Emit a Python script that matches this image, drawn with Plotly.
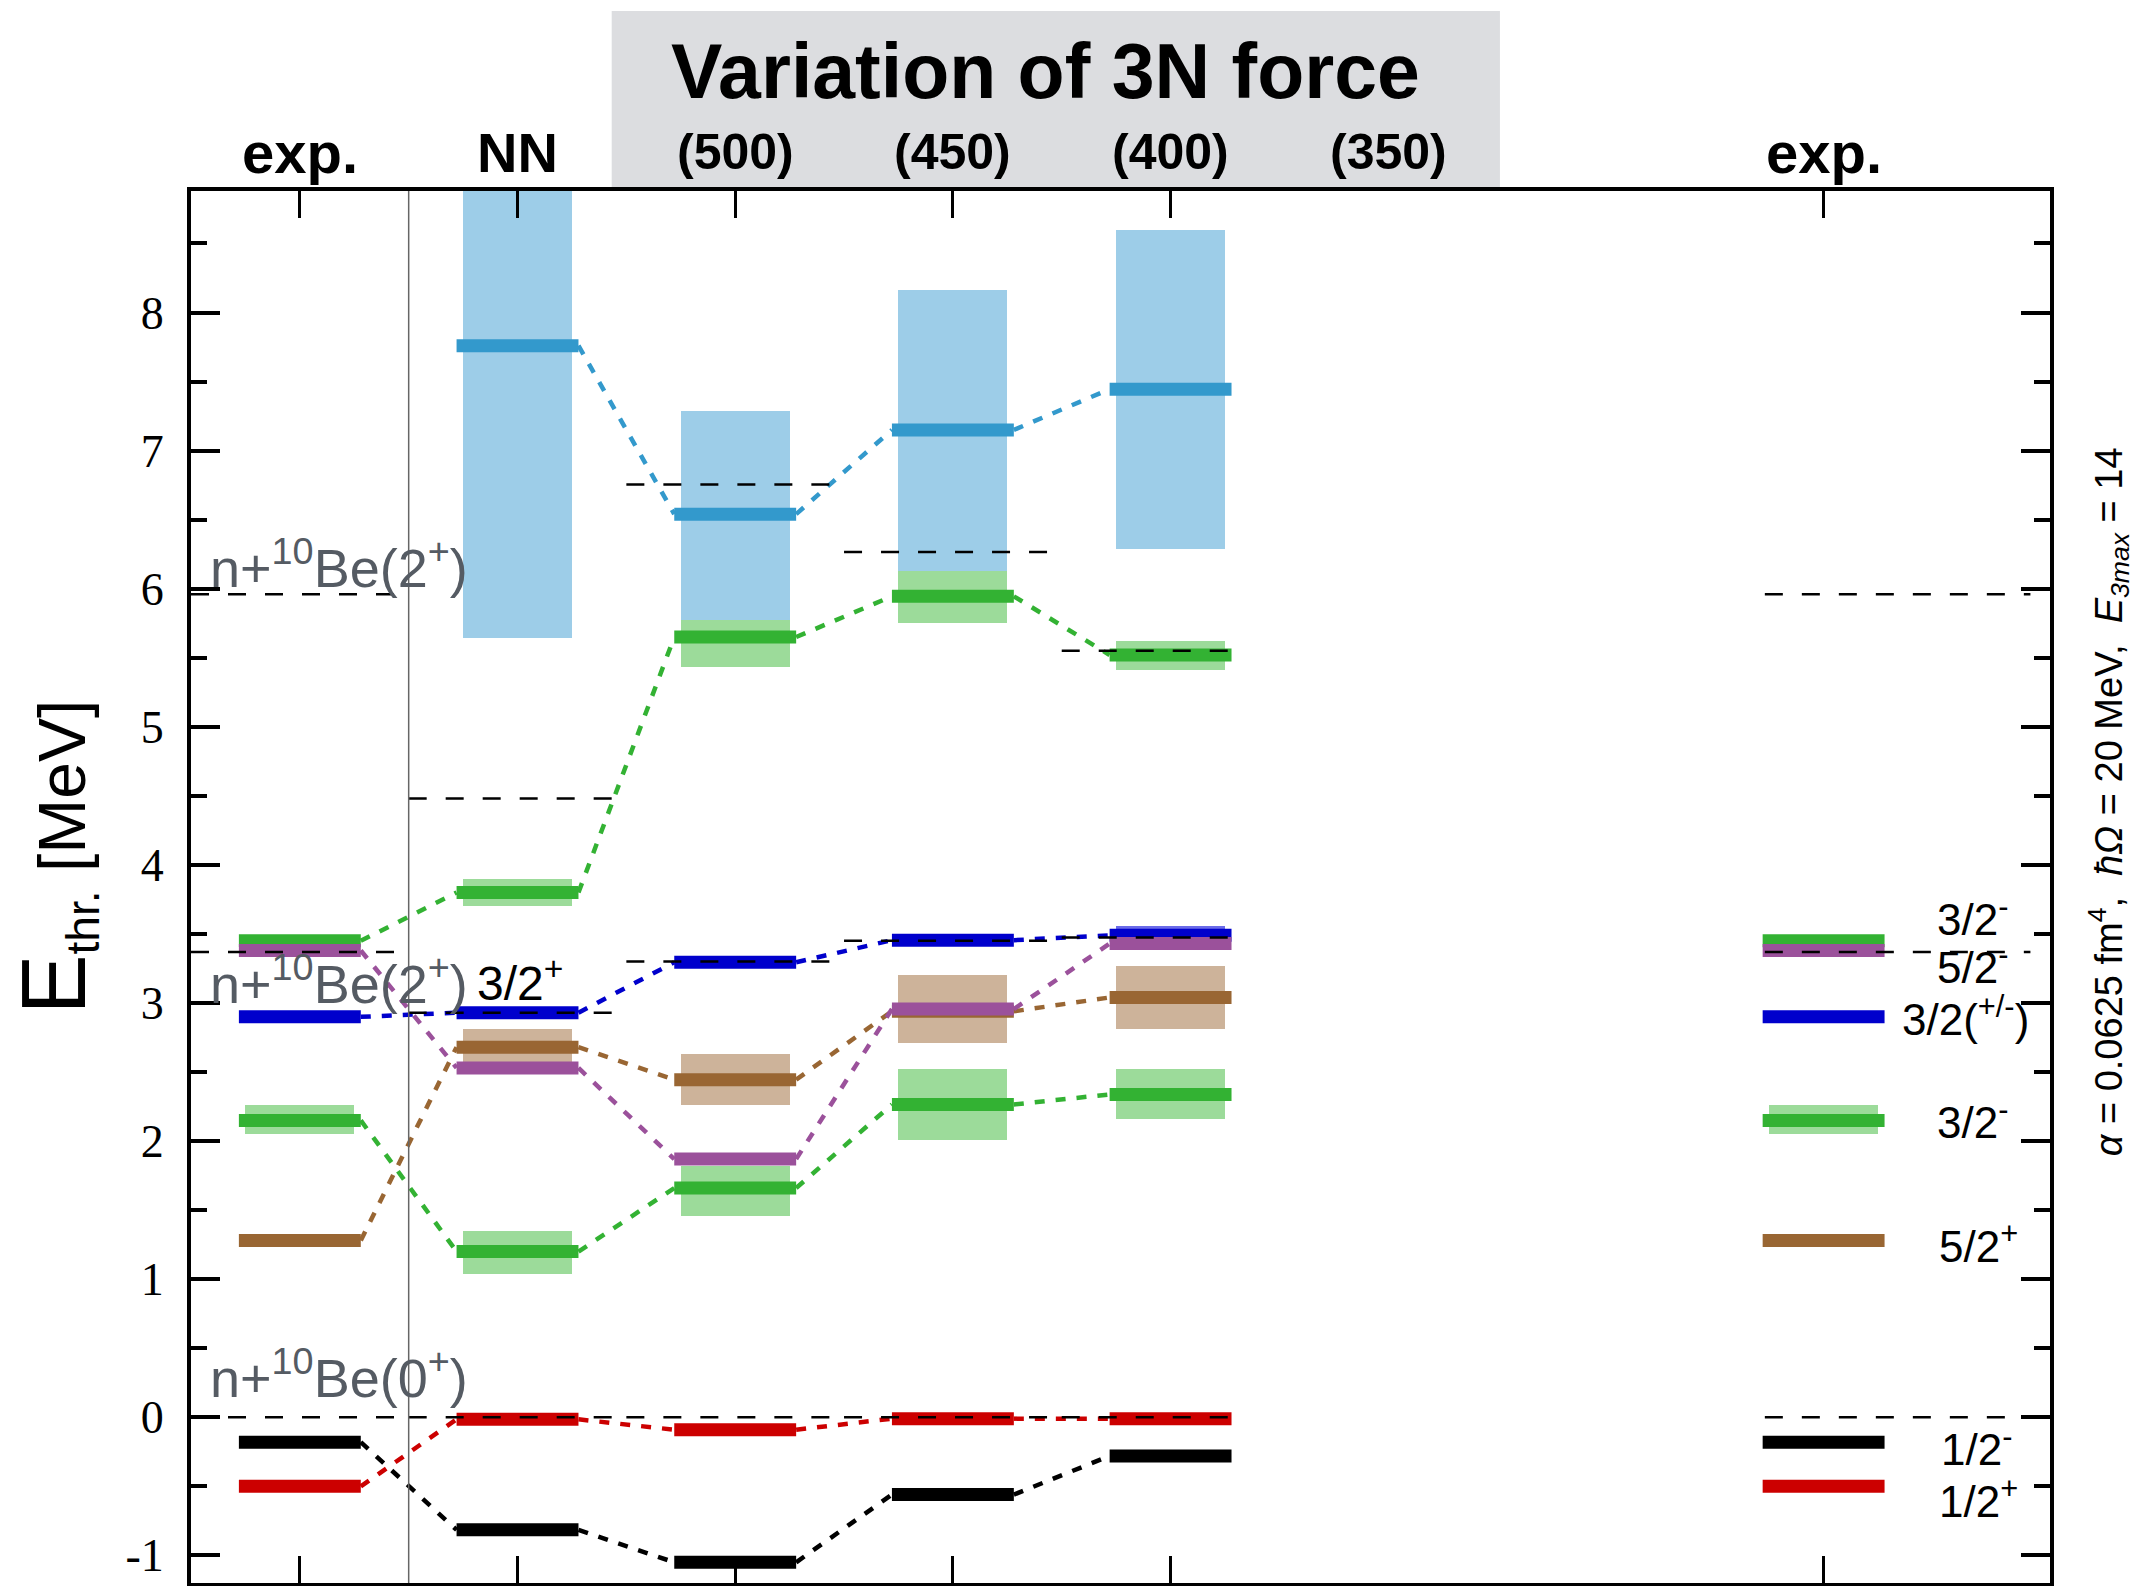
import plotly.graph_objects as go

# Column positions on the x axis and their header labels
columns = [0, 1, 2, 3, 4, 5, 7]
column_labels = ["exp.", "NN", "(500)", "(450)", "(400)", "(350)", "exp."]
column_label_sizes = [58, 56, 50, 50, 50, 50, 58]

# Calculated columns (NN and the three 3N cutoffs) plus experiment on both sides
theory_cols = [1, 2, 3, 4]

# Experimental levels (MeV relative to n+10Be(0+))
exp_1h_plus = -0.50
exp_1h_minus = -0.18
exp_5h_plus = 1.28
exp_3h_minus_a = 2.15
exp_3h_pm = 2.90
exp_5h_minus = 3.38
exp_3h_minus_b = 3.45

# Calculated levels for NN, (500), (450), (400)
th_1h_plus = [-0.015, -0.09, -0.01, -0.01]
th_1h_minus = [-0.815, -1.05, -0.56, -0.28]
th_5h_plus = [2.68, 2.445, 2.94, 3.04]
th_3h_minus_a = [1.20, 1.66, 2.265, 2.338]
th_3h_pm = [2.93, 3.295, 3.455, 3.49]
th_5h_minus = [2.53, 1.87, 2.956, 3.43]
th_3h_minus_b = [3.80, 5.65, 5.945, 5.52]
th_3h_minus_c = [7.76, 6.54, 7.15, 7.445]

# Uncertainty bands (low, high) for the calculated levels
band_5h_plus_lo = [2.57, 2.26, 2.71, 2.81]
band_5h_plus_hi = [2.81, 2.63, 3.20, 3.265]
band_3h_minus_a_lo = [1.04, 1.46, 2.01, 2.16]
band_3h_minus_a_hi = [1.35, 1.82, 2.52, 2.52]
band_3h_minus_b_lo = [3.70, 5.43, 5.755, 5.41]
band_3h_minus_b_hi = [3.90, 5.77, 6.13, 5.62]
band_3h_minus_c_lo = [5.64, 5.77, 6.13, 6.29]
band_3h_minus_c_hi = [9.50, 7.29, 8.16, 8.60]
band_3h_pm_lo = [3.42]
band_3h_pm_hi = [3.56]
band_3h_pm_cols = [4]
exp_band_3h_minus_a = (2.05, 2.26)

# Neutron thresholds per column: n+10Be(0+), n+10Be(2+), n+10Be(2+ second)
thr_cols = [0, 1, 2, 3, 4, 7]
thr_0 = [0.0, 0.0, 0.0, 0.0, 0.0, 0.0]
thr_2a = [3.37, 2.93, 3.30, 3.45, 3.475, 3.37]
thr_2b = [5.96, 4.48, 6.755, 6.265, 5.55, 5.96]
thr_x0 = [-0.5, 0.5, 1.5, 2.5, 3.5, 6.73]
thr_x1 = [0.45, 1.45, 2.45, 3.45, 4.28, 7.95]

# Right-hand spin-parity labels
jp_labels = ["3/2<sup>-</sup>", "5/2<sup>-</sup>", "3/2(<sup>+/-</sup>)", "3/2<sup>-</sup>",
             "5/2<sup>+</sup>", "1/2<sup>-</sup>", "1/2<sup>+</sup>"]
jp_label_y = [3.63, 3.28, 2.90, 2.16, 1.26, -0.21, -0.59]
jp_label_x = [7.51, 7.51, 7.35, 7.51, 7.52, 7.53, 7.52]

C_RED = "#cc0000"
C_BLACK = "#000000"
C_BROWN = "#996633"
C_BROWN_BAND = "#cdb39a"
C_GREEN = "#33b233"
C_GREEN_BAND = "#9cdb9a"
C_BLUE = "#0000cc"
C_BLUE_BAND = "#6b6be8"
C_LBLUE = "#3399cc"
C_LBLUE_BAND = "#9dcde8"
C_PURPLE = "#9b519b"

HALF_BAR = 0.28
BAND_W = 0.5
LEVEL_W = 13

fig = go.Figure()


def add_band(cols, lo, hi, color):
    fig.add_trace(go.Bar(
        x=cols, y=[h - l for l, h in zip(lo, hi)], base=lo, width=BAND_W,
        marker=dict(color=color, line=dict(width=0)), hoverinfo="skip"))


# uncertainty bands (drawn underneath the levels)
add_band(theory_cols, band_3h_minus_c_lo, band_3h_minus_c_hi, C_LBLUE_BAND)
add_band(theory_cols, band_3h_minus_b_lo, band_3h_minus_b_hi, C_GREEN_BAND)
add_band(theory_cols, band_5h_plus_lo, band_5h_plus_hi, C_BROWN_BAND)
add_band(theory_cols, band_3h_minus_a_lo, band_3h_minus_a_hi, C_GREEN_BAND)
add_band(band_3h_pm_cols, band_3h_pm_lo, band_3h_pm_hi, C_BLUE_BAND)
add_band([0, 7], [exp_band_3h_minus_a[0]] * 2, [exp_band_3h_minus_a[1]] * 2, C_GREEN_BAND)


def add_levels(cols, vals, color):
    xs, ys = [], []
    for c, v in zip(cols, vals):
        xs += [c - HALF_BAR, c + HALF_BAR, None]
        ys += [v, v, None]
    fig.add_trace(go.Scatter(x=xs, y=ys, mode="lines", hoverinfo="skip",
                             line=dict(color=color, width=LEVEL_W)))


def add_links(cols, vals, color):
    xs, ys = [], []
    for i in range(len(cols) - 1):
        xs += [cols[i] + HALF_BAR, cols[i + 1] - HALF_BAR, None]
        ys += [vals[i], vals[i + 1], None]
    fig.add_trace(go.Scatter(x=xs, y=ys, mode="lines", hoverinfo="skip",
                             line=dict(color=color, width=4.5, dash="10px,11px")))


series = [
    (exp_1h_plus, th_1h_plus, C_RED),
    (exp_1h_minus, th_1h_minus, C_BLACK),
    (exp_5h_plus, th_5h_plus, C_BROWN),
    (exp_3h_minus_a, th_3h_minus_a, C_GREEN),
    (exp_3h_pm, th_3h_pm, C_BLUE),
    (None, th_3h_minus_c, C_LBLUE),
    (exp_3h_minus_b, th_3h_minus_b, C_GREEN),
    (exp_5h_minus, th_5h_minus, C_PURPLE),
]

for e, th, col in series:
    if e is None:
        add_levels(theory_cols, th, col)
        add_links(theory_cols, th, col)
    else:
        add_levels([0] + theory_cols + [7], [e] + th + [e], col)
        add_links([0] + theory_cols, [e] + th, col)

# threshold lines
for thr in (thr_0, thr_2a, thr_2b):
    xs, ys = [], []
    for a, b, v in zip(thr_x0, thr_x1, thr):
        xs += [a, b, None]
        ys += [v, v, None]
    fig.add_trace(go.Scatter(x=xs, y=ys, mode="lines", hoverinfo="skip",
                             line=dict(color="black", width=2.5, dash="18px,19px")))

# separator between experiment and calculations
fig.add_shape(type="line", xref="x", yref="paper", x0=0.5, x1=0.5, y0=0, y1=1,
              line=dict(color="#666666", width=1.5), layer="above")

# grey header box for the 3N-force variation
fig.add_shape(type="rect", xref="paper", yref="paper", x0=0.2263, x1=0.7041,
              y0=1.0029, y1=1.1293, fillcolor="#dcdde0", line=dict(width=0), layer="below")

HEAD_FONT = "Liberation Sans, Arial, sans-serif"

fig.add_annotation(text="<b>Variation of 3N force</b>", xref="paper", yref="paper",
                   x=0.4594, y=1.0862, showarrow=False, xanchor="center", yanchor="middle",
                   font=dict(family=HEAD_FONT, size=77, color="black"))

for c, lab, sz in zip(columns, column_labels, column_label_sizes):
    fig.add_annotation(text="<b>" + lab + "</b>", xref="x", yref="paper", x=c, y=1.028,
                       showarrow=False, xanchor="center", yanchor="middle",
                       font=dict(family=HEAD_FONT, size=sz, color="black"))

# threshold names
GRAY = "#555b63"
for txt, yv in [("n+<sup>10</sup>Be(2<sup>+</sup>)", 6.18),
                ("n+<sup>10</sup>Be(2<sup>+</sup>)", 3.17),
                ("n+<sup>10</sup>Be(0<sup>+</sup>)", 0.31)]:
    fig.add_annotation(text=txt, xref="x", yref="y", x=-0.42, y=yv, showarrow=False,
                       xanchor="left", yanchor="middle",
                       font=dict(family="Liberation Sans", size=54, color=GRAY))

fig.add_annotation(text="3/2<sup>+</sup>", xref="x", yref="y", x=1.01, y=3.17, showarrow=False,
                   xanchor="center", yanchor="middle",
                   font=dict(family="Liberation Sans", size=48, color="black"))

for txt, xv, yv in zip(jp_labels, jp_label_x, jp_label_y):
    fig.add_annotation(text=txt, xref="x", yref="y", x=xv, y=yv, showarrow=False,
                       xanchor="left", yanchor="middle",
                       font=dict(family="Liberation Sans", size=44, color="black"))

# axis title
fig.add_annotation(text="<span style='font-size:90px'>E</span><sub>thr.</sub> [MeV]",
                   xref="paper", yref="y", x=-0.0721, y=4.06, textangle=-90, showarrow=False,
                   xanchor="center", yanchor="middle",
                   font=dict(family="Liberation Sans", size=66, color="black"))

# calculation parameters
fig.add_annotation(text="<i>α</i> = 0.0625 fm<sup>4</sup>,  <i>ħΩ</i> = 20 MeV,  <i>E<sub>3max</sub></i> = 14",
                   xref="paper", yref="y", x=1.0317, y=4.46, textangle=-90, showarrow=False,
                   xanchor="center", yanchor="middle",
                   font=dict(family="Liberation Sans", size=38, color="black"))

fig.update_xaxes(range=[-0.5, 8.04], tickmode="array", tickvals=[0, 1, 2, 3, 4, 7],
                 ticks="inside", ticklen=27, tickwidth=3, tickcolor="black",
                 showticklabels=False, showgrid=False, zeroline=False,
                 showline=True, linewidth=4, linecolor="black", mirror="ticks")
fig.update_yaxes(range=[-1.2, 8.88], tickmode="array", tickvals=list(range(-1, 9)),
                 ticktext=[str(v) for v in range(-1, 9)],
                 ticks="inside", ticklen=29, tickwidth=4, tickcolor="black",
                 minor=dict(tickmode="linear", tick0=0.5, dtick=1, ticks="inside", ticklen=16,
                            tickwidth=4, tickcolor="black", showgrid=False),
                 tickfont=dict(family="Liberation Serif", size=46, color="black"),
                 ticklabelstandoff=14,
                 showgrid=False, zeroline=False,
                 showline=True, linewidth=4, linecolor="black", mirror="ticks")

fig.update_layout(width=2136, height=1586, margin=dict(l=191, r=86, t=191, b=3),
                  paper_bgcolor="white", plot_bgcolor="white", showlegend=False,
                  barmode="overlay", bargap=0)

fig.write_html("out.html")
